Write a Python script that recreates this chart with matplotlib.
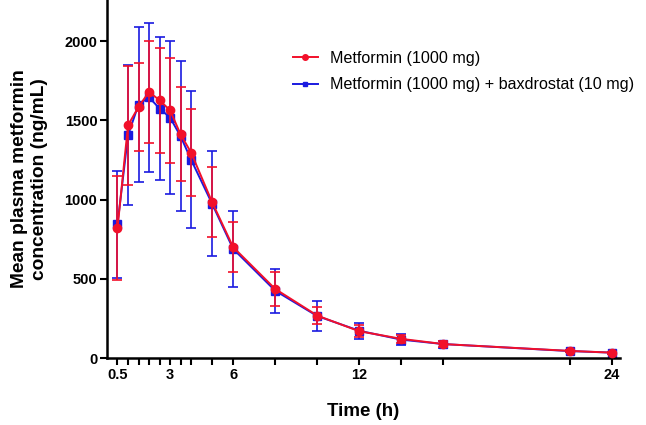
import matplotlib
matplotlib.use("Agg")
import matplotlib.pyplot as plt
from matplotlib.lines import Line2D

plt.rcParams['font.family'] = ['Liberation Sans', 'DejaVu Sans']

time_h = [0.5, 1, 1.5, 2, 2.5, 3, 3.5, 4, 5, 6, 8, 10, 12, 14, 16, 22, 24]
met_mean = [820, 1469, 1585, 1680, 1627, 1564, 1412, 1297, 984, 700, 436, 268, 169, 121, 88, 45, 34]
met_sd = [330, 375, 280, 320, 333, 330, 297, 275, 220, 157, 107, 56, 39, 25, 18, 8, 6]
combo_mean = [843, 1406, 1600, 1646, 1575, 1518, 1400, 1252, 974, 689, 425, 265, 172, 116, 88, 44, 34]
combo_sd = [340, 443, 490, 470, 452, 481, 475, 431, 331, 240, 140, 92, 50, 35, 22, 8, 6]

xticks = [0.5, 1, 1.5, 2, 2.5, 3, 3.5, 4, 5, 6, 8, 10, 12, 14, 16, 22, 24]
xlabels = ['0.5', '', '', '', '', '3', '', '', '', '6', '', '', '12', '', '', '', '24']
yticks = [0, 500, 1000, 1500, 2000]
series_labels = ['Metformin (1000 mg)', 'Metformin (1000 mg) + baxdrostat (10 mg)']

red = '#f2102a'
blue = '#1a1ae0'

fig = plt.figure(figsize=(6.46, 4.25), dpi=100)
ax = fig.add_axes([0.1656, 0.1576, 0.7942, 0.8424])

ax.errorbar(time_h, combo_mean, yerr=combo_sd, color=blue, marker='s', markersize=5.5,
            linewidth=1.4, elinewidth=1.2, capsize=3.5, capthick=1.2, zorder=2)
ax.errorbar(time_h, met_mean, yerr=met_sd, color=red, marker='o', markersize=6,
            linewidth=1.4, elinewidth=1.2, capsize=3.5, capthick=1.2, zorder=3)

ax.set_xlim(0, 24.4)
ax.set_ylim(0, 2260)
ax.set_xticks(xticks)
ax.set_xticklabels(xlabels)
ax.set_yticks(yticks)
for lab in ax.get_xticklabels() + ax.get_yticklabels():
    lab.set_fontweight('bold')
    lab.set_fontsize(10.5)

ax.spines['top'].set_visible(False)
ax.spines['right'].set_visible(False)
ax.spines['left'].set_linewidth(1.8)
ax.spines['bottom'].set_linewidth(1.8)
ax.tick_params(direction='out', length=5, width=1.5, pad=2)

ax.set_xlabel('Time (h)', fontsize=13.5, fontweight='bold', labelpad=15)
ax.set_ylabel('Mean plasma metformin\nconcentration (ng/mL)', fontsize=13.8, fontweight='bold', labelpad=12)

handles = [
    Line2D([], [], color=red, marker='o', markersize=4, linewidth=1.4),
    Line2D([], [], color=blue, marker='s', markersize=3.5, linewidth=1.4),
]
ax.legend(handles, series_labels, loc='upper left', bbox_to_anchor=(0.335, 0.898),
          frameon=False, fontsize=11.6, handlelength=1.5, handletextpad=0.8,
          labelspacing=0.7)

fig.savefig('out.png', dpi=100)
